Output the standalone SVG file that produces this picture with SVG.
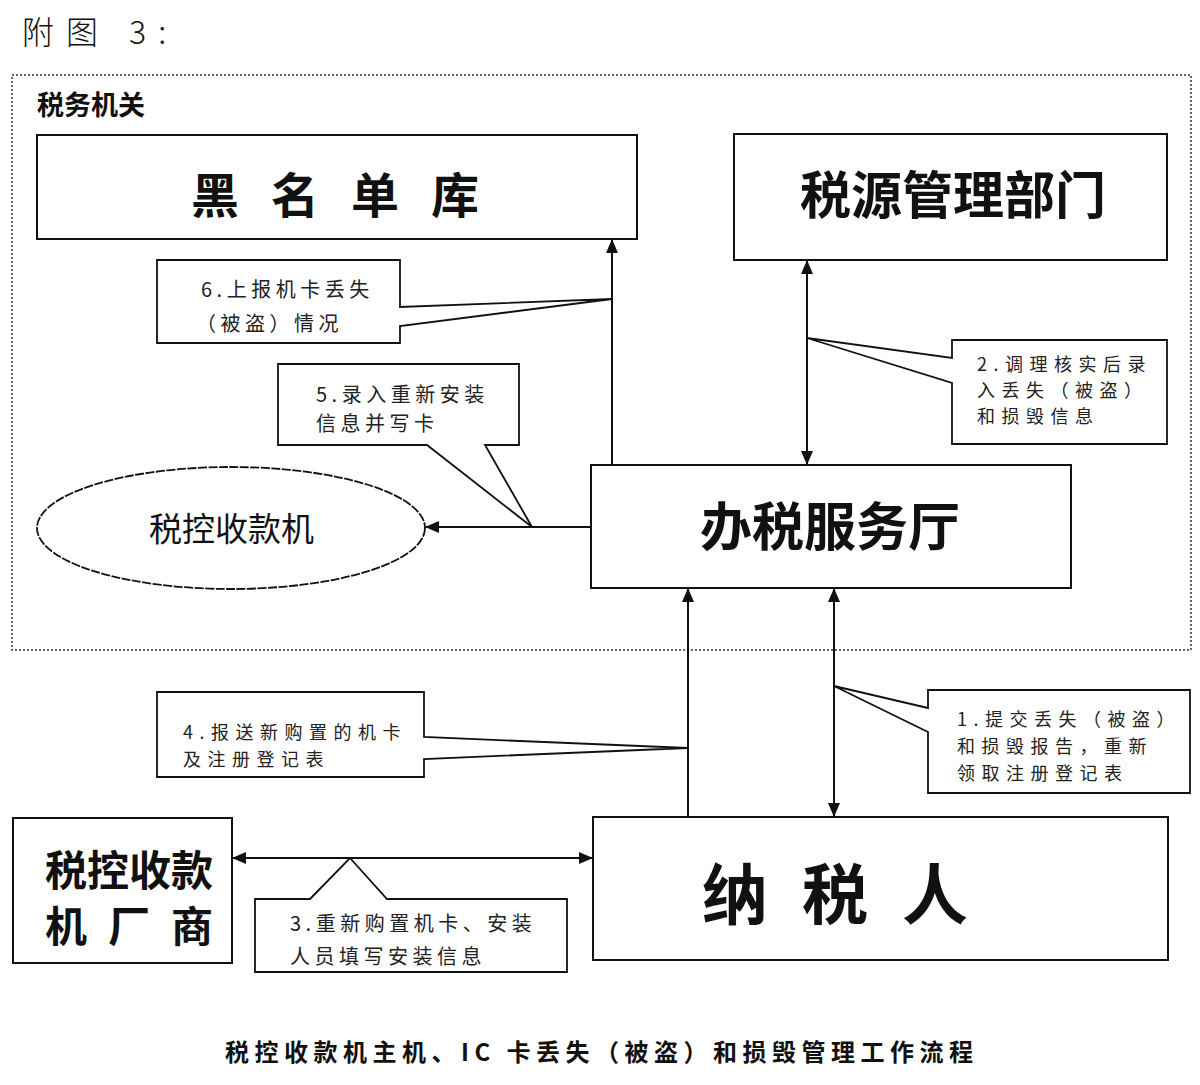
<svg xmlns="http://www.w3.org/2000/svg" width="1200" height="1085" viewBox="0 0 1200 1085">
<style>
text{font-family:"Noto Sans CJK SC","Liberation Sans",sans-serif;fill:#111;dominant-baseline:central}
.box{fill:#fff;stroke:#111;stroke-width:2}
.call{fill:#fff;stroke:#111;stroke-width:1.8;stroke-linejoin:miter}
.big{font-weight:700}
.ct{font-size:20px;letter-spacing:4.5px;fill:#222}
.cs{font-size:18px;letter-spacing:6.5px;fill:#222}
.conn{stroke:#111;stroke-width:2;fill:none}
</style>
<defs>
<marker id="ah" markerUnits="userSpaceOnUse" markerWidth="14" markerHeight="12" refX="13" refY="6" orient="auto-start-reverse">
<path d="M0,0 L14,6 L0,12 Z" fill="#111"/>
</marker>
</defs>
<rect width="1200" height="1085" fill="#fff"/>
<text x="22" y="30" font-size="32" style="letter-spacing:12px;font-weight:300">附图 3:</text>
<g id="taxoffice">
<rect x="12" y="75" width="1179" height="575" fill="none" stroke="#333" stroke-width="1.5" stroke-dasharray="2,2"/>
<text x="37" y="103" font-size="27" class="big">税务机关</text>
</g>
<g id="connectors">
<line class="conn" x1="612" y1="465" x2="612" y2="240" marker-end="url(#ah)"/>
<line class="conn" x1="807" y1="261" x2="807" y2="464" marker-start="url(#ah)" marker-end="url(#ah)"/>
<line class="conn" x1="591" y1="527" x2="426" y2="527" marker-end="url(#ah)"/>
<line class="conn" x1="688" y1="817" x2="688" y2="589" marker-end="url(#ah)"/>
<line class="conn" x1="834" y1="589" x2="834" y2="816" marker-start="url(#ah)" marker-end="url(#ah)"/>
<line class="conn" x1="233" y1="858" x2="592" y2="858" marker-start="url(#ah)" marker-end="url(#ah)"/>
</g>
<g id="blacklist">
<rect class="box" x="37" y="135" width="600" height="104"/>
<text x="191" y="192" font-size="48" class="big" style="letter-spacing:32px">黑名单库</text>
</g>
<g id="taxsource">
<rect class="box" x="734" y="134" width="433" height="126"/>
<text x="800" y="192" font-size="51" class="big">税源管理部门</text>
</g>
<g id="servicehall">
<rect class="box" x="591" y="465" width="480" height="123"/>
<text x="700" y="523" font-size="52" class="big">办税服务厅</text>
</g>
<g id="register">
<ellipse cx="231" cy="528" rx="194" ry="61" fill="#fff" stroke="#111" stroke-width="1.8" stroke-dasharray="9,1.5"/>
<text x="149" y="527" font-size="33">税控收款机</text>
</g>
<g id="vendor">
<rect class="box" x="13" y="818" width="219" height="145"/>
<text x="45" y="867" font-size="42" class="big">税控收款</text>
<text x="45" y="923" font-size="42" class="big" style="letter-spacing:21px">机厂商</text>
</g>
<g id="taxpayer">
<rect class="box" x="593" y="817" width="575" height="143"/>
<text x="702" y="890" font-size="66" class="big" style="letter-spacing:34px">纳税人</text>
</g>
<g id="note6">
<polygon class="call" points="157,260 400,260 400,307 612,299 400,326 400,343 157,343"/>
<text class="ct" x="201" y="288">6.上报机卡丢失</text>
<text class="ct" x="196" y="322">（被盗）情况</text>
</g>
<g id="note5">
<polygon class="call" points="278,364 519,364 519,445 485,445 532,527 427,445 278,445"/>
<text class="ct" x="316" y="393">5.录入重新安装</text>
<text class="ct" x="316" y="422">信息并写卡</text>
</g>
<g id="note2">
<polygon class="call" points="952,340 1167,340 1167,444 952,444 952,383 807,338 952,358"/>
<text class="cs" x="977" y="363">2.调理核实后录</text>
<text class="cs" x="977" y="389">入丢失（被盗）</text>
<text class="cs" x="977" y="415">和损毁信息</text>
</g>
<g id="note4">
<polygon class="call" points="157,692 424,692 424,737 688,748 424,759 424,777 157,777"/>
<text class="cs" x="183" y="731">4.报送新购置的机卡</text>
<text class="cs" x="183" y="758">及注册登记表</text>
</g>
<g id="note1">
<polygon class="call" points="928,690 1190,690 1190,793 928,793 928,732 834,686 928,708"/>
<text class="cs" x="957" y="718">1.提交丢失（被盗）</text>
<text class="cs" x="957" y="745">和损毁报告，重新</text>
<text class="cs" x="957" y="772">领取注册登记表</text>
</g>
<g id="note3">
<polygon class="call" points="255,899 310,899 350,858 387,899 567,899 567,972 255,972"/>
<text class="ct" x="290" y="922">3.重新购置机卡、安装</text>
<text class="ct" x="290" y="955">人员填写安装信息</text>
</g>
<text x="225" y="1050" font-size="24" font-weight="700" textLength="748" lengthAdjust="spacing">税控收款机主机、IC 卡丢失（被盗）和损毁管理工作流程</text>
</svg>
